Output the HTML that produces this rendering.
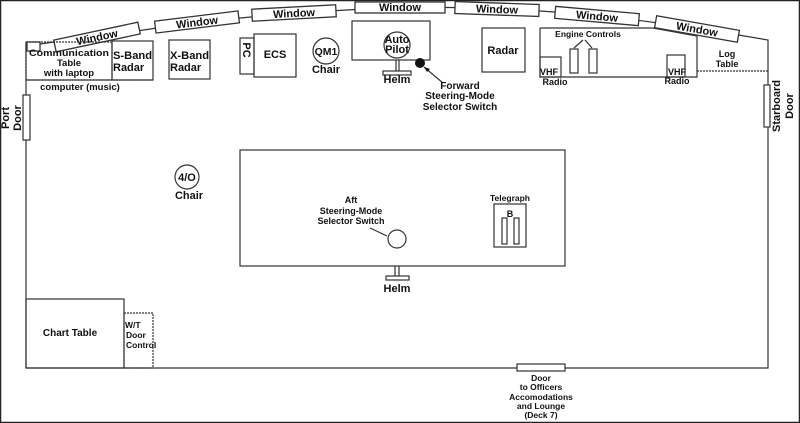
<!DOCTYPE html>
<html><head><style>
html,body{margin:0;padding:0;background:#fff}
svg{display:block}
text{font-family:"Liberation Sans",Arial,sans-serif;font-weight:bold;fill:#111}
</style></head><body>
<svg width="800" height="423" viewBox="0 0 800 423" xmlns="http://www.w3.org/2000/svg">
<rect x="0.5" y="0.5" width="799" height="422" fill="#fff" stroke="#222" stroke-width="1.5"/>
<g stroke="#333" stroke-width="1.2" fill="none">
<polyline points="26,368 26,44 40,44 54,42 97,37 197,22 294,13 400,7 497,8 597,15 697,28 768,40 768,368 26,368"/>
</g>
<g stroke="#333" stroke-width="1.3" fill="#fff" font-size="11">
<rect x="27" y="42" width="13" height="9"/>
<g transform="translate(97,37) rotate(-12)"><rect x="-43" y="-6" width="86" height="12"/><text x="0" y="4" text-anchor="middle" stroke="none">Window</text></g>
<g transform="translate(197,22) rotate(-7)"><rect x="-42" y="-6" width="84" height="12"/><text x="0" y="4" text-anchor="middle" stroke="none">Window</text></g>
<g transform="translate(294,13) rotate(-3)"><rect x="-42" y="-6" width="84" height="12"/><text x="0" y="4" text-anchor="middle" stroke="none">Window</text></g>
<g transform="translate(400,7)"><rect x="-45" y="-5" width="90" height="11"/><text x="0" y="4" text-anchor="middle" stroke="none">Window</text></g>
<g transform="translate(497,9) rotate(2)"><rect x="-42" y="-6" width="84" height="12"/><text x="0" y="4" text-anchor="middle" stroke="none">Window</text></g>
<g transform="translate(597,16) rotate(5)"><rect x="-42" y="-6" width="84" height="12"/><text x="0" y="4" text-anchor="middle" stroke="none">Window</text></g>
<g transform="translate(697,29) rotate(10)"><rect x="-42" y="-6" width="84" height="12"/><text x="0" y="4" text-anchor="middle" stroke="none">Window</text></g>
</g>
<g stroke="#333" stroke-width="1.2" fill="none">
<rect x="26" y="42" width="86" height="38" stroke-dasharray="2,1"/>
<line x1="26" y1="80" x2="153" y2="80" stroke-dasharray="2,1"/>
<rect x="112" y="41" width="41" height="39"/>
<rect x="169" y="40" width="41" height="39"/>
<rect x="240" y="38" width="14" height="36"/>
<rect x="254" y="34" width="42" height="43"/>
<circle cx="326" cy="51" r="13"/>
<rect x="352" y="21" width="78" height="39"/>
<circle cx="397" cy="45" r="13" fill="#fff"/>
<line x1="396" y1="60" x2="396" y2="71"/><line x1="399" y1="60" x2="399" y2="71"/>
<rect x="383" y="71" width="28" height="4"/>
<line x1="443" y1="83" x2="424" y2="67"/>
<rect x="482" y="28" width="43" height="44"/>
<polyline points="540,28 653,28 697,36 697,77 540,77 540,28"/>
<rect x="540" y="57" width="21" height="20"/>
<rect x="570" y="49" width="8" height="24"/>
<rect x="589" y="49" width="8" height="24"/>
<line x1="583" y1="40" x2="574" y2="48"/><line x1="585" y1="40" x2="592" y2="48"/>
<rect x="667" y="55" width="18" height="22"/>
<line x1="697" y1="71" x2="768" y2="71" stroke-dasharray="2,1"/>
<rect x="764" y="85" width="6" height="42" fill="#fff"/>
<rect x="23" y="95" width="7" height="45" fill="#fff"/>
<circle cx="187" cy="177" r="12"/>
<rect x="240" y="150" width="325" height="116"/>
<circle cx="397" cy="239" r="9"/>
<line x1="370" y1="228" x2="387" y2="236"/>
<rect x="494" y="204" width="32" height="43"/>
<rect x="502" y="218" width="5" height="26"/>
<rect x="514" y="218" width="5" height="26"/>
<line x1="395" y1="266" x2="395" y2="276"/><line x1="399" y1="266" x2="399" y2="276"/>
<rect x="386" y="276" width="23" height="4"/>
<rect x="26" y="299" width="98" height="69"/>
<rect x="124" y="313" width="29" height="55" stroke-dasharray="2,1"/>
<rect x="517" y="364" width="48" height="7" fill="#fff"/>
</g>
<circle cx="420" cy="63" r="5" fill="#111"/>
<polygon points="424,67 430,69 427,72" fill="#111"/>
<g font-size="10" text-anchor="middle">
<text x="69" y="56" font-size="9.5" textLength="80" lengthAdjust="spacingAndGlyphs">Communication</text><text x="69" y="66" font-size="9.5">Table</text><text x="69" y="76" font-size="9.5">with laptop</text>
<text x="80" y="90" font-size="9.5">computer (music)</text>
<text x="113" y="59" text-anchor="start" font-size="11" textLength="39" lengthAdjust="spacingAndGlyphs">S-Band</text><text x="113" y="71" text-anchor="start" font-size="11">Radar</text>
<text x="170" y="59" text-anchor="start" font-size="11" textLength="39" lengthAdjust="spacingAndGlyphs">X-Band</text><text x="170" y="71" text-anchor="start" font-size="11">Radar</text>
<text x="0" y="0" font-size="11" transform="translate(243,50) rotate(90)">PC</text>
<text x="275" y="58" font-size="11">ECS</text>
<text x="326" y="55" font-size="10.5">QM1</text><text x="326" y="73" font-size="11">Chair</text>
<text x="397" y="43" font-size="11">Auto</text><text x="397" y="53" font-size="11">Pilot</text>
<text x="397" y="83" font-size="11">Helm</text>
<text x="460" y="89">Forward</text><text x="460" y="99">Steering-Mode</text><text x="460" y="110">Selector Switch</text>
<text x="503" y="54" font-size="11">Radar</text>
<text x="588" y="37" font-size="8.5">Engine Controls</text>
<text x="549" y="75" font-size="9">VHF</text><text x="555" y="85" font-size="9">Radio</text>
<text x="677" y="75" font-size="9">VHF</text><text x="677" y="84" font-size="9">Radio</text>
<text x="727" y="57" font-size="9">Log</text><text x="727" y="67" font-size="9">Table</text>
<text x="0" y="0" font-size="11" transform="translate(780,106) rotate(-90)">Starboard</text>
<text x="0" y="0" font-size="11" transform="translate(793,106) rotate(-90)">Door</text>
<text x="0" y="0" font-size="11" transform="translate(9,118) rotate(-90)">Port</text>
<text x="0" y="0" font-size="11" transform="translate(21,118) rotate(-90)">Door</text>
<text x="187" y="181" font-size="11">4/O</text><text x="189" y="199" font-size="11">Chair</text>
<text x="351" y="203" font-size="9">Aft</text><text x="351" y="214" font-size="9">Steering-Mode</text><text x="351" y="224" font-size="9">Selector Switch</text>
<text x="510" y="201" font-size="8.5">Telegraph</text>
<text x="510" y="217" font-size="9" font-weight="normal">B</text>
<text x="397" y="292" font-size="11">Helm</text>
<text x="70" y="336" font-size="10">Chart Table</text>
<text x="125" y="328" text-anchor="start" font-size="8.5">W/T</text><text x="126" y="338" text-anchor="start" font-size="8.5">Door</text><text x="126" y="348" text-anchor="start" font-size="8.5">Control</text>
<g font-size="8.5"><text x="541" y="381">Door</text><text x="541" y="390">to Officers</text><text x="541" y="400">Accomodations</text><text x="541" y="409">and Lounge</text><text x="541" y="418">(Deck 7)</text></g>
</g>
</svg>
</body></html>
